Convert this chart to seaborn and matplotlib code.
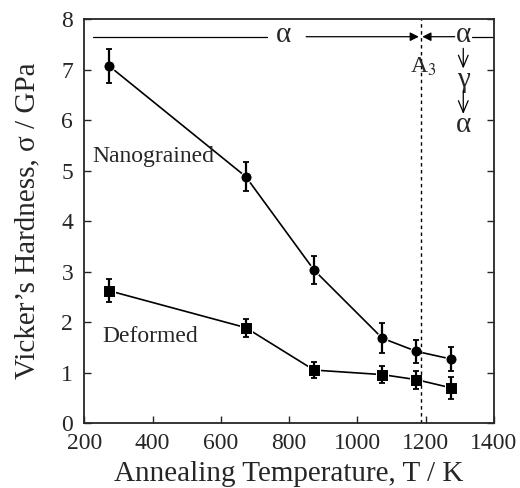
import matplotlib
matplotlib.use("Agg")
import matplotlib.pyplot as plt
import seaborn as sns
import pandas as pd

# data
temp = [273, 673, 873, 1073, 1173, 1273]
nano_hv = [7.07, 4.88, 3.03, 1.68, 1.42, 1.27]
nano_err = [0.33, 0.28, 0.28, 0.30, 0.23, 0.23]
def_hv = [2.62, 1.89, 1.05, 0.96, 0.86, 0.70]
def_err = [0.23, 0.18, 0.15, 0.17, 0.18, 0.22]
a3_temp = 1185

df = pd.DataFrame({"T": temp * 2,
                   "Hv": nano_hv + def_hv,
                   "kind": ["Nanograined"] * 6 + ["Deformed"] * 6})

sns.set_style("ticks")
plt.rcParams["font.family"] = ["Liberation Serif", "DejaVu Serif"]
plt.rcParams["mathtext.fontset"] = "stix"

fig, ax = plt.subplots(figsize=(5.2, 4.88), dpi=100)
fig.subplots_adjust(left=0.162, right=0.950, top=0.961, bottom=0.133)

sns.lineplot(data=df, x="T", y="Hv", style="kind", markers={"Nanograined": "o", "Deformed": "s"},
             dashes=False, color="black", markersize=8, linewidth=1.2, legend=False, ax=ax)
ax.errorbar(temp, nano_hv, yerr=nano_err, fmt="none", ecolor="black", elinewidth=1.6, capsize=2.2, capthick=1.3)
ax.errorbar(temp, def_hv, yerr=def_err, fmt="none", ecolor="black", elinewidth=1.6, capsize=2.2, capthick=1.3)

# A3 transformation line
ax.axvline(a3_temp, color="black", linestyle=(0, (2.5, 2.5)), linewidth=1.0)

# phase annotation at the top
ytop = 7.65
arrow_h = dict(arrowstyle="-|>", color="black", lw=0.9, mutation_scale=13, shrinkA=0, shrinkB=0)
arrow_v = dict(arrowstyle="->,head_length=0.6,head_width=0.25", color="black", lw=0.9,
               mutation_scale=14, shrinkA=0, shrinkB=0)
ax.plot([225, 735], [ytop, ytop], color="black", linewidth=0.9)
ax.text(785, ytop + 0.03, "α", fontsize=21, ha="center", va="center")
ax.annotate("", xy=(a3_temp - 5, ytop), xytext=(850, ytop), arrowprops=arrow_h)
ax.annotate("", xy=(a3_temp + 5, ytop), xytext=(1285, ytop), arrowprops=arrow_h)
ax.plot([1335, 1400], [ytop, ytop], color="black", linewidth=0.9)
ax.text(1310, ytop + 0.03, "α", fontsize=21, ha="center", va="center")
ax.annotate("", xy=(1310, 7.02), xytext=(1310, 7.42), arrowprops=arrow_v)
ax.text(1310, 6.80, "γ", fontsize=21, ha="center", va="center")
ax.annotate("", xy=(1310, 6.12), xytext=(1310, 6.58), arrowprops=arrow_v)
ax.text(1310, 5.90, "α", fontsize=21, ha="center", va="center")
ax.text(1193, 7.05, "A$_3$", fontsize=17, ha="center", va="center")

ax.text(225, 5.27, "Nanograined", fontsize=17, ha="left", va="center")
ax.text(252, 1.71, "Deformed", fontsize=17, ha="left", va="center")

ax.set_xlim(200, 1400)
ax.set_ylim(0, 8)
ax.set_xticks(range(200, 1401, 200))
ax.set_yticks(range(0, 9))
ax.tick_params(direction="in", length=5, width=1.0, labelsize=17, top=False, right=True)
ax.tick_params(axis="x", pad=7)
ax.tick_params(axis="y", pad=8)
for s in ax.spines.values():
    s.set_linewidth(1.3)
ax.set_xlabel("Annealing Temperature, T / K", fontsize=21, labelpad=5)
ax.set_ylabel("Vicker’s Hardness, σ / GPa", fontsize=21, labelpad=15)

fig.savefig("out.png", dpi=100)
